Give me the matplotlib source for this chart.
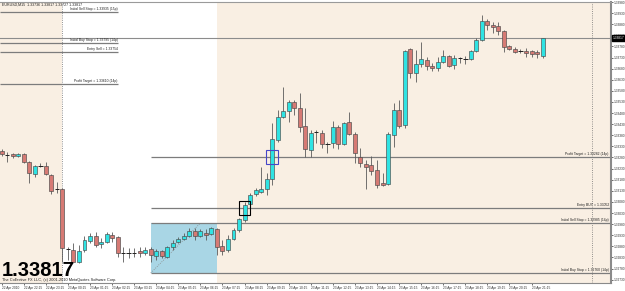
# MT4 style EURUSD M15 candlestick chart with Asian range box and trade levels

import matplotlib
matplotlib.use("Agg")
import matplotlib.pyplot as plt
from matplotlib.patches import Rectangle
import matplotlib.transforms as mtransforms

plt.rcParams['font.family'] = ['Liberation Sans', 'DejaVu Sans']

# --- data (one entry per 15 min bar) ---
opens = [1.33309, 1.33290, 1.33295, 1.33286, 1.33295, 1.33259, 1.33205, 1.33241, 1.33241, 1.33200,
         1.33138, 1.33138, 1.32868, 1.32863, 1.32809, 1.32863, 1.32904, 1.32926, 1.32890, 1.32899,
         1.32931, 1.32922, 1.32850, 1.32850, 1.32850, 1.32859, 1.32850, 1.32868, 1.32836, 1.32859,
         1.32832, 1.32877, 1.32899, 1.32913, 1.32926, 1.32949, 1.32926, 1.32940, 1.32935, 1.32958,
         1.32881, 1.32863, 1.32913, 1.32953, 1.32998, 1.33070, 1.33115, 1.33124, 1.33138, 1.33183,
         1.33358, 1.33462, 1.33489, 1.33529, 1.33502, 1.33421, 1.33313, 1.33394, 1.33390, 1.33340,
         1.33345, 1.33417, 1.33340, 1.33439, 1.33385, 1.33282, 1.33250, 1.33246, 1.33223, 1.33165,
         1.33160, 1.33381, 1.33493, 1.33426, 1.33768, 1.33660, 1.33700, 1.33718, 1.33691, 1.33682,
         1.33709, 1.33736, 1.33695, 1.33727, 1.33722, 1.33722, 1.33759, 1.33808, 1.33893, 1.33875,
         1.33871, 1.33848, 1.33781, 1.33768, 1.33759, 1.33759, 1.33759, 1.33754, 1.33736]
highs = [1.33318, 1.33304, 1.33300, 1.33300, 1.33300, 1.33264, 1.33246, 1.33254, 1.33259, 1.33205,
         1.33169, 1.33142, 1.32877, 1.32895, 1.32886, 1.32926, 1.32940, 1.32944, 1.32917, 1.32944,
         1.32944, 1.32926, 1.32877, 1.32872, 1.32872, 1.32877, 1.32877, 1.32877, 1.32868, 1.32863,
         1.32881, 1.32908, 1.32922, 1.32940, 1.32962, 1.32962, 1.32958, 1.32958, 1.32967, 1.32962,
         1.32908, 1.32931, 1.32962, 1.33007, 1.33079, 1.33120, 1.33142, 1.33236, 1.33210, 1.33435,
         1.33493, 1.33597, 1.33538, 1.33538, 1.33570, 1.33502, 1.33403, 1.33403, 1.33403, 1.33349,
         1.33444, 1.33426, 1.33439, 1.33484, 1.33394, 1.33322, 1.33268, 1.33286, 1.33268, 1.33210,
         1.33394, 1.33525, 1.33538, 1.33763, 1.33772, 1.33763, 1.33799, 1.33732, 1.33704, 1.33732,
         1.33763, 1.33740, 1.33740, 1.33732, 1.33736, 1.33763, 1.33817, 1.33920, 1.33902, 1.33889,
         1.33889, 1.33853, 1.33785, 1.33776, 1.33768, 1.33772, 1.33763, 1.33763, 1.33817]
lows = [1.33286, 1.33259, 1.33277, 1.33282, 1.33254, 1.33165, 1.33192, 1.33236, 1.33200, 1.33115,
        1.33120, 1.32809, 1.32818, 1.32805, 1.32805, 1.32854, 1.32895, 1.32877, 1.32872, 1.32895,
        1.32899, 1.32832, 1.32809, 1.32827, 1.32832, 1.32832, 1.32841, 1.32809, 1.32818, 1.32827,
        1.32827, 1.32863, 1.32895, 1.32908, 1.32922, 1.32908, 1.32922, 1.32908, 1.32931, 1.32841,
        1.32841, 1.32854, 1.32908, 1.32944, 1.32989, 1.33066, 1.33106, 1.33120, 1.33111, 1.33156,
        1.33349, 1.33457, 1.33439, 1.33471, 1.33394, 1.33282, 1.33282, 1.33345, 1.33322, 1.33300,
        1.33322, 1.33318, 1.33336, 1.33381, 1.33254, 1.33236, 1.33138, 1.33200, 1.33142, 1.33152,
        1.33156, 1.33327, 1.33412, 1.33412, 1.33637, 1.33619, 1.33687, 1.33673, 1.33669, 1.33669,
        1.33704, 1.33687, 1.33677, 1.33704, 1.33700, 1.33718, 1.33754, 1.33803, 1.33853, 1.33839,
        1.33830, 1.33754, 1.33763, 1.33750, 1.33750, 1.33732, 1.33732, 1.33727, 1.33727]
closes = [1.33295, 1.33290, 1.33286, 1.33295, 1.33259, 1.33210, 1.33241, 1.33241, 1.33205, 1.33129,
          1.33138, 1.32872, 1.32868, 1.32809, 1.32859, 1.32908, 1.32926, 1.32886, 1.32899, 1.32935,
          1.32917, 1.32850, 1.32850, 1.32850, 1.32850, 1.32850, 1.32863, 1.32841, 1.32859, 1.32836,
          1.32877, 1.32895, 1.32913, 1.32926, 1.32949, 1.32926, 1.32949, 1.32931, 1.32962, 1.32877,
          1.32859, 1.32913, 1.32953, 1.33003, 1.33066, 1.33111, 1.33133, 1.33138, 1.33183, 1.33363,
          1.33462, 1.33489, 1.33529, 1.33502, 1.33417, 1.33318, 1.33390, 1.33394, 1.33340, 1.33340,
          1.33417, 1.33340, 1.33435, 1.33385, 1.33300, 1.33254, 1.33236, 1.33219, 1.33156, 1.33156,
          1.33385, 1.33493, 1.33421, 1.33759, 1.33660, 1.33700, 1.33722, 1.33691, 1.33682, 1.33709,
          1.33736, 1.33691, 1.33727, 1.33727, 1.33722, 1.33759, 1.33808, 1.33893, 1.33875, 1.33866,
          1.33848, 1.33776, 1.33768, 1.33754, 1.33759, 1.33750, 1.33745, 1.33745, 1.33817]

bid = 1.33817

time_labels = ["22 Apr 2010", "22 Apr 22:15", "22 Apr 23:15", "23 Apr 00:15", "23 Apr 01:15",
               "23 Apr 02:15", "23 Apr 03:15", "23 Apr 04:15", "23 Apr 05:15", "23 Apr 06:15",
               "23 Apr 07:15", "23 Apr 08:15", "23 Apr 09:15", "23 Apr 10:15", "23 Apr 11:15",
               "23 Apr 12:15", "23 Apr 13:15", "23 Apr 14:15", "23 Apr 15:15", "23 Apr 16:15",
               "23 Apr 17:15", "23 Apr 18:15", "23 Apr 19:15", "23 Apr 20:15", "23 Apr 21:15"]

price_ticks = [1.33980, 1.33930, 1.33880, 1.33830, 1.33780, 1.33730, 1.33680, 1.33630, 1.33580,
               1.33530, 1.33480, 1.33430, 1.33380, 1.33330, 1.33280, 1.33230, 1.33180, 1.33130,
               1.33080, 1.33030, 1.32980, 1.32930, 1.32880, 1.32830, 1.32780, 1.32730]

# previous day's levels (short segments top left)
old_names = ["Initial Sell Stop = 1.33935 (15p)", "Initial Buy Stop = 1.33795 (14p)",
             "Entry Sell = 1.33754", "Profit Target = 1.33610 (14p)"]
old_prices = [1.33935, 1.33795, 1.33754, 1.33610]

# current levels from the 04:00-07:00 box
new_names = ["Profit Target = 1.33282 (14p)", "Entry BUY = 1.33052",
             "Initial Sell Stop = 1.32985 (14p)", "Initial Buy Stop = 1.32760 (14p)"]
new_prices = [1.33282, 1.33052, 1.32985, 1.32760]

box_high = 1.32985
box_low = 1.32760

# bar positions of session marks (bar index)
day_start = 11      # 23 Apr 00:00
box_start = 27      # 04:00
box_end = 39        # 07:00
next_day = 107      # 24 Apr 00:00
entry_bar = 44
target_bar = 49
old_end = 21

bg = '#f9efe3'
bull = '#2fe3e3'
bear = '#d67a74'
edge = '#4a4a4a'
linec = '#7c7c7c'

fig = plt.figure(figsize=(6.25, 2.91), dpi=100)
fig.patch.set_facecolor('white')
ax = fig.add_axes([0, 8 / 291, 611 / 625, 281 / 291])
ax.set_facecolor(bg)
xmin, xmax = -0.31, 110.4
ax.set_xlim(xmin, xmax)
ax.set_ylim(1.32715, 1.33979)

# white session background and blue range box
ax.axvspan(day_start, box_end, color='white', zorder=0.5, lw=0)
ax.add_patch(Rectangle((box_start, box_low), box_end - box_start, box_high - box_low,
                       facecolor='#a9d6e5', edgecolor='none', zorder=0.6))
ax.plot([box_start, 36], [box_low, box_high], ls=':', color='#8a8a8a', lw=0.6, zorder=0.7)

# period separators
for d in [day_start, next_day]:
    ax.axvline(d, ls=':', color='#707070', lw=0.6, zorder=1)

# level lines
ax.axhline(bid, color='#8c8c8c', lw=0.8, zorder=1.5)
for p, name in zip(old_prices, old_names):
    ax.hlines(p, xmin, old_end, color=linec, lw=0.9, zorder=1.5)
    ax.text(old_end, p + 0.00004, name, ha='right', va='bottom', fontsize=2.4, color='#202020', zorder=6)
for p, name in zip(new_prices, new_names):
    ax.hlines(p, box_start, xmax, color=linec, lw=0.9, zorder=1.5)
    ax.text(110.0, p + 0.00004, name, ha='right', va='bottom', fontsize=2.4, color='#202020', zorder=6)

# candles
x = list(range(len(opens)))
ax.vlines(x, lows, highs, color='#5a5a5a', lw=0.6, zorder=3)
for i in x:
    o, c = opens[i], closes[i]
    if o == c:
        ax.hlines(o, i - 0.4, i + 0.4, color='#202020', lw=0.7, zorder=4)
    else:
        col = bull if c > o else bear
        ax.add_patch(Rectangle((i - 0.36, min(o, c)), 0.72, abs(c - o),
                               facecolor=col, edgecolor=edge, lw=0.45, zorder=4))

# entry / target markers
ax.add_patch(Rectangle((entry_bar - 1.0, new_prices[1] - 0.0003), 2.0, 0.0006,
                       facecolor='none', edgecolor='black', lw=0.8, zorder=5))
ax.add_patch(Rectangle((target_bar - 1.1, new_prices[0] - 0.00033), 2.2, 0.00066,
                       facecolor='none', edgecolor='#4646c8', lw=0.8, zorder=5))

# axes look
ax.spines['left'].set_visible(False)
ax.spines['top'].set_color('#9a9a9a')
ax.spines['bottom'].set_color('#8a8a8a')
ax.spines['right'].set_color('#8a8a8a')
ax.spines['right'].set_linewidth(1.5)

ax.yaxis.tick_right()
ax.set_yticks(price_ticks)
ax.set_yticklabels(['%.5f' % t for t in price_ticks])
ax.tick_params(axis='y', length=1.5, width=0.5, pad=0.6, labelsize=2.3, colors='#303030')

ax.set_xticks([4 * i for i in range(len(time_labels))])
ax.set_xticklabels(time_labels)
ax.tick_params(axis='x', length=1.2, width=0.5, pad=0.6, labelsize=2.3, colors='#303030')
for lab in ax.get_xticklabels():
    lab.set_horizontalalignment('left')

# bid label on the price scale
trans = mtransforms.blended_transform_factory(ax.transAxes, ax.transData)
ax.text(1.003, bid, '%.5f' % bid, transform=trans, ha='left', va='center', fontsize=2.3,
        color='white', clip_on=False, zorder=7,
        bbox=dict(boxstyle='square,pad=0.25', fc='black', ec='black'))

# titles
ax.text(0.004, 0.997, 'EURUSD,M15  1.33736 1.33817 1.33727 1.33817', transform=ax.transAxes,
        ha='left', va='top', fontsize=2.6, color='#202020', zorder=7)
fig.text(2 / 625, 15 / 291, '%.5f' % bid, fontsize=14.5, fontweight='bold', color='black',
         ha='left', va='baseline', zorder=7)
fig.text(2 / 625, 9.5 / 291, 'The Collective FX LLC, (c) 2001-2010 MetaQuotes Software Corp.',
         fontsize=2.8, color='#202020', ha='left', va='baseline', zorder=7)

fig.savefig('out.png', dpi=100)
